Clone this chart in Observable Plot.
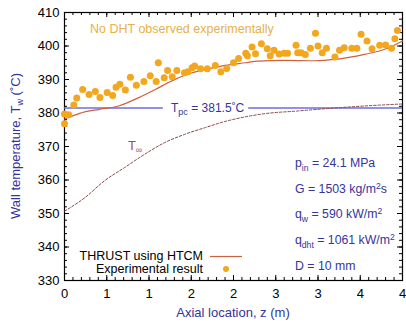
<!DOCTYPE html>
<html><head><meta charset="utf-8">
<script src="https://cdn.jsdelivr.net/npm/d3@7"></script>
<script src="https://cdn.jsdelivr.net/npm/@observablehq/plot@0.6"></script>
<style>body{margin:0;background:#fff} svg{font-family:"Liberation Sans",Arial,sans-serif}</style>
</head><body><div id="chart"></div>
<script>
// Experimental wall temperature (z in m, T in °C)
const expZ = [0.00,0.00,0.05,0.11,0.145,0.215,0.29,0.365,0.42,0.505,0.57,0.61,0.655,0.72,0.78,0.85,0.94,1.015,1.085,1.11,1.18,1.22,1.275,1.33,1.42,1.46,1.51,1.54,1.61,1.69,1.785,1.85,1.92,2.0,2.06,2.145,2.165,2.22,2.26,2.33,2.40,2.435,2.48,2.54,2.60,2.64,2.74,2.76,2.80,2.85,2.91,2.97,3.0,3.05,3.1,3.2,3.255,3.31,3.40,3.46,3.51,3.58,3.64,3.73,3.80,3.87,3.91,3.94];
const expT = [376.8,379.7,379.5,382.4,384.5,387.0,385.5,386.4,384.6,386.1,385.2,387.7,388.6,386.9,390.7,388.3,389.4,391.1,389.4,395.0,390.5,392.7,390.8,392.7,392.0,392.3,393.5,394.0,393.2,393.2,394.2,392.3,393.3,395.0,396.3,397.8,397.1,399.7,397.7,400.7,399.2,397.1,398.7,397.6,397.8,397.8,400.2,398.0,398.0,397.5,399.3,403.8,400.0,398.0,399.3,396.7,398.7,399.5,399.3,399.3,403.5,401.5,399.2,400.2,400.3,399.3,402.2,404.6];
// THRUST using HTCM
const simZ = [0,0.18,0.41,0.64,0.88,1.08,1.27,1.51,1.71,1.9,2.14,2.29,2.6,2.96,3.2,3.55,3.8,4.0];
const simT = [378.2,379.9,381.1,382.1,384.6,387.1,389.6,392.0,393.2,394.2,395.0,395.5,395.7,395.6,396.0,397.5,399.1,401.5];
// Bulk temperature T_inf
const infZ = [0,0.24,0.47,0.71,0.95,1.18,1.42,1.66,1.89,2.13,2.37,2.76,3.15,3.55,4.0];
const infT = [350.7,354.7,359.7,363.7,367.7,371.1,373.6,375.6,377.4,378.8,379.8,380.6,381.4,382.1,382.7];
const tpc = 381.5;
const xTicks = [0,0.5,1,1.5,2,2.5,3,3.5,4];
const yTicks = [330,340,350,360,370,380,390,400,410];
const params = ["p_{in} = 24.1 MPa","G = 1503 kg/m^{2}s","q_{w} = 590 kW/m^{2}","q_{dht} = 1061 kW/m^{2}","D = 10 mm"];
const legendLabels = ["THRUST using HTCM","Experimental result"];

const expData = expZ.map((z,i)=>({z, T: expT[i]}));
const simData = simZ.map((z,i)=>({z, T: simT[i]}));
const infData = infZ.map((z,i)=>({z, T: infT[i]}));

const W = 406, H = 325, mL = 64, mR = 4, mT = 12, mB = 45;
const iW = W - mL - mR, iH = H - mT - mB;
const xMinor = d3.range(0, 4.0001, 0.1);
const yMinor = d3.range(330, 410.001, 2);
const blueTxt = "#34349c", blueLine = "#6c6ce0", orange = "#f2a71e", red = "#d0603c";

const plot = Plot.plot({
  width: W, height: H,
  marginLeft: mL, marginRight: mR, marginTop: mT, marginBottom: mB,
  x: {domain: [0, 4]},
  y: {domain: [330, 410]},
  style: {fontFamily: '"Liberation Sans", Arial, sans-serif', fontSize: "13px", color: "black", background: "white"},
  marks: [
    Plot.frame({stroke: "black", strokeWidth: 1.2}),
    Plot.tickX(xMinor, {x: d=>d, insetTop: iH-3, stroke: "black"}),
    Plot.tickX(xMinor, {x: d=>d, insetBottom: iH-3, stroke: "black"}),
    Plot.tickX(xTicks, {x: d=>d, insetTop: iH-5, stroke: "black"}),
    Plot.tickX(xTicks, {x: d=>d, insetBottom: iH-5, stroke: "black"}),
    Plot.tickY(yMinor, {y: d=>d, insetRight: iW-3, stroke: "black"}),
    Plot.tickY(yMinor, {y: d=>d, insetLeft: iW-3, stroke: "black"}),
    Plot.tickY(yTicks, {y: d=>d, insetRight: iW-5, stroke: "black"}),
    Plot.tickY(yTicks, {y: d=>d, insetLeft: iW-5, stroke: "black"}),
    Plot.axisX(xTicks, {tickSize: 0, tickPadding: 8, fontSize: 13, label: null}),
    Plot.axisY(yTicks, {tickSize: 0, tickPadding: 5, fontSize: 13, label: null}),
    Plot.ruleY([tpc], {x1: 0, x2: 1.17, stroke: blueLine, strokeWidth: 1.6}),
    Plot.ruleY([tpc], {x1: 2.18, x2: 4, stroke: blueLine, strokeWidth: 1.6}),
    Plot.text([tpc], {x: 1.26, y: d=>d, text: d=>"T_{pc} = " + d + "˚C", textAnchor: "start", fill: blueTxt, fontSize: 12}),
    Plot.line(infData, {x: "z", y: "T", stroke: "#8a4b4b", strokeWidth: 1, strokeDasharray: "2.5,1.8", curve: "monotone-x"}),
    Plot.text(["T_{∞}"], {x: 0.75, y: 370.3, text: d=>d, textAnchor: "start", fill: "#b04c4c", fontSize: 13}),
    Plot.line(simData, {x: "z", y: "T", stroke: red, strokeWidth: 1.2, curve: "monotone-x"}),
    Plot.dot(expData, {x: "z", y: "T", r: 3.5, fill: orange, stroke: "none"})
  ]
});
document.getElementById("chart").appendChild(plot);

const svg = d3.select(plot);
function richify(el, str, fs) {
  const parts = str.split(/(_\{[^}]*\}|\^\{[^}]*\})/).filter(s => s.length);
  el.textContent = "";
  let shift = 0;
  for (const p of parts) {
    const ts = document.createElementNS("http://www.w3.org/2000/svg", "tspan");
    let target = 0, txt = p, small = false;
    if (p.startsWith("_{")) { target = fs*0.28; txt = p.slice(2,-1); small = true; }
    else if (p.startsWith("^{")) { target = -fs*0.38; txt = p.slice(2,-1); small = true; }
    if (target - shift !== 0) ts.setAttribute("dy", (target - shift).toFixed(2));
    shift = target;
    if (small) ts.setAttribute("font-size", (fs*0.7).toFixed(1));
    ts.textContent = txt;
    el.appendChild(ts);
  }
}
svg.selectAll("text").each(function(){
  const t = this.textContent;
  if (/[_^]\{/.test(t)) richify(this, t, parseFloat(this.getAttribute("font-size")) || 13);
});
// annotations in frame pixel space
const ann = svg.append("g").attr("font-family", '"Liberation Sans", Arial, sans-serif');
function addText(x, y, str, {anchor="start", fill="black", size=13, rotate=0} = {}) {
  const t = ann.append("text")
    .attr("transform", `translate(${x},${y})` + (rotate ? ` rotate(${rotate})` : ""))
    .attr("text-anchor", "start").attr("dy", "0.35em")
    .attr("font-size", size).attr("fill", fill);
  richify(t.node(), str, size);
  if (anchor !== "start") {
    const len = t.node().getComputedTextLength();
    t.attr("x", anchor === "middle" ? -len/2 : -len);
  }
  return t;
}
addText(mL+26, 29, "No DHT observed experimentally", {fill: "#e8b048", size: 12.5});
const paramY = [163, 189, 214, 240, 266];
params.forEach((p, i) => addText(295, paramY[i], p, {fill: blueTxt, size: 12.3}));
legendLabels.forEach((p, i) => addText(mL+139, [256, 269][i], p, {anchor: "end", size: 12.5}));
addText(15, mT + iH/2, "Wall temperature, T_{w} (˚C)", {anchor: "middle", fill: blueTxt, rotate: -90});
addText(mL + iW/2, 312, "Axial location, z (m)", {anchor: "middle", fill: blueTxt});
// legend samples
ann.append("line").attr("x1", mL+146).attr("x2", mL+178).attr("y1", 256.5).attr("y2", 256.5).attr("stroke", red).attr("stroke-width", 1.2);
ann.append("circle").attr("cx", mL+162).attr("cy", 269).attr("r", 3).attr("fill", orange);
</script>
</body></html>
